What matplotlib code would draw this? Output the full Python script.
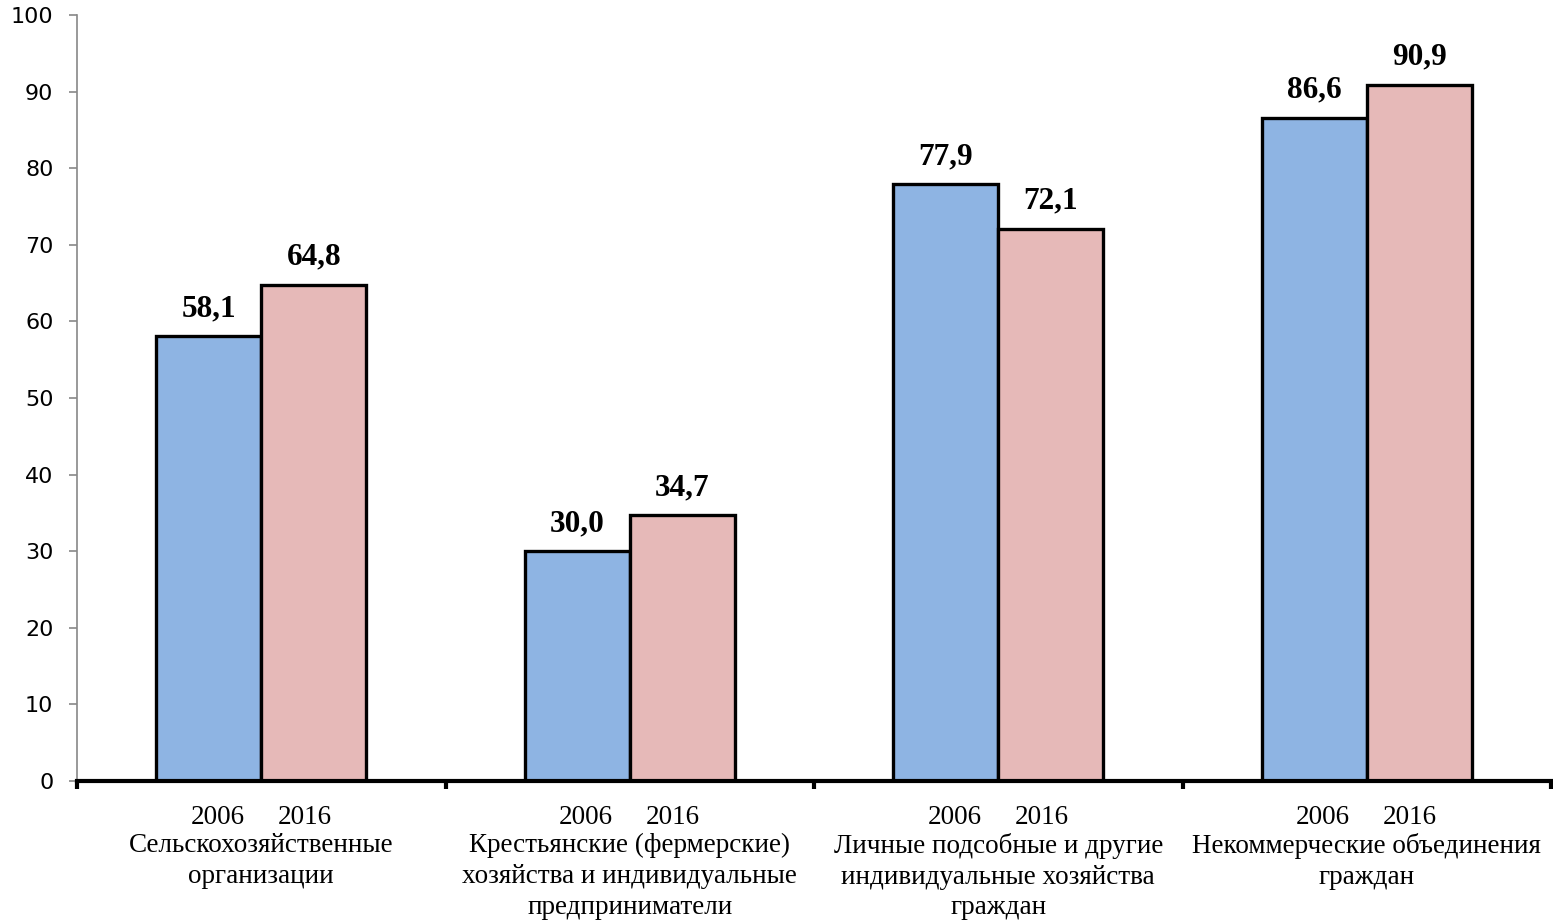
import matplotlib
matplotlib.use("Agg")
import matplotlib.pyplot as plt
from matplotlib.ticker import FixedLocator, NullFormatter
import numpy as np

categories = ["Сельскохозяйственные\nорганизации",
              "Крестьянские (фермерские)\nхозяйства и индивидуальные\nпредприниматели",
              "Личные подсобные и другие\nиндивидуальные хозяйства\nграждан",
              "Некоммерческие объединения\nграждан"]
years = ["2006", "2016"]
values_2006 = [58.1, 30.0, 77.9, 86.6]
values_2016 = [64.8, 34.7, 72.1, 90.9]
yticks = [0, 10, 20, 30, 40, 50, 60, 70, 80, 90, 100]

fig = plt.figure(figsize=(15.53, 9.22), dpi=100)
ax = fig.add_axes([77/1553, 1-781/922, (1551-77)/1553, (781-15)/922])

x = np.arange(len(categories))
w = 0.285
c06, c16 = "#8EB4E3", "#E6B9B8"
ax.bar(x - w/2, values_2006, width=w, color=c06, edgecolor="black", linewidth=2.4, zorder=2)
ax.bar(x + w/2, values_2016, width=w, color=c16, edgecolor="black", linewidth=2.4, zorder=2)

def fmt(v):
    return f"{v:.1f}".replace(".", ",")

for xi, v in zip(x - w/2, values_2006):
    ax.annotate(fmt(v), (xi, v), xytext=(0, 13), textcoords="offset pixels",
                ha="center", va="bottom", fontsize=22.5, fontweight="bold",
                family="Liberation Serif")
for xi, v in zip(x + w/2, values_2016):
    ax.annotate(fmt(v), (xi, v), xytext=(0, 13), textcoords="offset pixels",
                ha="center", va="bottom", fontsize=22.5, fontweight="bold",
                family="Liberation Serif")

ax.set_xlim(-0.5, len(categories) - 0.5)
ax.set_ylim(0, 100)
ax.set_yticks(yticks)
ax.set_yticklabels([str(t) for t in yticks], fontsize=16, family="DejaVu Sans")
ax.tick_params(axis="y", direction="out", length=6, width=1.2, color="#888888", pad=11)

ax.xaxis.set_major_locator(FixedLocator(np.arange(-0.5, len(categories), 1.0)))
ax.xaxis.set_major_formatter(NullFormatter())
ax.tick_params(axis="x", which="major", direction="out", length=6, width=3, color="black")

tr = ax.get_xaxis_transform()
year_dx = 0.118
for xi in x:
    for dx, yr in zip((-year_dx, year_dx), years):
        ax.annotate(yr, (xi + dx, 0), xycoords=tr, xytext=(0, -36), textcoords="offset pixels",
                    ha="center", va="center", fontsize=19.5, family="Liberation Serif",
                    annotation_clip=False)
for xi, cat in zip(x, categories):
    ax.annotate(cat, (xi, 0), xycoords=tr, xytext=(0, -52), textcoords="offset pixels",
                ha="center", va="top", fontsize=19.5, family="Liberation Serif",
                linespacing=1.3, annotation_clip=False)

for s in ("top", "right"):
    ax.spines[s].set_visible(False)
ax.spines["left"].set_color("#888888")
ax.spines["left"].set_linewidth(1.2)
ax.spines["bottom"].set_color("black")
ax.spines["bottom"].set_linewidth(3)
ax.spines["bottom"].set_zorder(3)

fig.savefig("out.png", dpi=100)
